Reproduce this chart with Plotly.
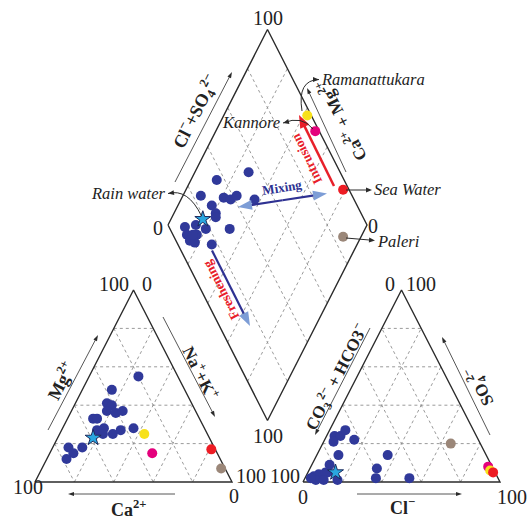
import math
import plotly.graph_objects as go

# ---------------- data (percent of meq/L) ----------------
TICKS = [20, 40, 60, 80]

# cation triangle - groundwater samples
cat_ca = [20, 37, 43, 41, 45, 41, 37, 54, 52, 55, 51, 53, 48, 43, 36, 74, 73, 67, 78]
cat_mg = [55, 48, 41, 40, 37, 36, 37, 33, 33, 27, 28, 25, 25, 27, 28, 18, 15, 18, 12]
cat_nak = [25, 15, 16, 19, 18, 23, 26, 13, 15, 18, 21, 22, 27, 30, 36, 8, 12, 15, 10]

# anion triangle - groundwater samples
an_hco3 = [72, 69, 65, 63, 74, 75, 50, 59, 62, 45, 93, 90, 86, 82, 85, 93, 89, 82, 95]
an_cl = [4, 7, 8, 15, 5, 11, 36, 34, 36, 53, 4, 6, 9, 9, 10, 6, 10, 17, 3]
an_so4 = [24, 24, 27, 22, 21, 14, 14, 7, 2, 2, 3, 4, 5, 9, 5, 1, 1, 1, 2]

# diamond - groundwater samples (Na+K %, Cl+SO4 %)
dia_nak = [27, 13, 9, 21, 25, 27, 37, 17, 21, 22, 9, 14, 20, 32, 12, 17, 15, 18, 27, 15]
dia_clso4 = [54, 36, 24, 35, 38, 42, 50, 27, 27, 26, 8, 14, 18, 30, 7, 12, 7, 9, 17, 10]

# reference samples
ref_names = ["Rain water", "Kannore", "Ramanattukara", "Sea Water", "Paleri"]
ref_ca = [59, 33, 32, 2, 2]
ref_mg = [23, 15, 25, 17, 7]
ref_nak = [18, 52, 43, 81, 91]
ref_hco3 = [81, 2, 2, 1, 15]
ref_cl = [14, 90, 92, 94, 65]
ref_so4 = [5, 8, 6, 5, 20]
ref_dia_nak = [16, 50, 42, 79, 91]
ref_dia_clso4 = [19, 98, 98, 97, 85]
ref_colors = ["#2aa7df", "#e4007c", "#f7e11b", "#ed1c24", "#9b8779"]

# ---------------- styling / layout geometry ----------------
FONT = "Liberation Serif"
INK = "#2b2b2b"
GRID = "#8f8f8f"
BLUE = "#2e3192"
LIGHT = "#7d9dd6"
RED = "#e8202a"
PT = "#30399a"

LX0, RX0, BASE, SIDE, HT = 35, 303, 482, 197, 192
DL, DT, DB = (168, 225), (267.5, 29.5), (267.5, 420.5)


def cat_xy(ca, mg, nak):
    s = ca + mg + nak
    return LX0 + SIDE * (nak + 0.5 * mg) / s, BASE - HT * mg / s


def an_xy(hco3, cl, so4):
    s = hco3 + cl + so4
    return RX0 + SIDE * (cl + 0.5 * so4) / s, BASE - HT * so4 / s


def dia_xy(nak, clso4):
    p, q = nak / 100.0, clso4 / 100.0
    return (DL[0] + q * (DT[0] - DL[0]) + p * (DB[0] - DL[0]),
            DL[1] + q * (DT[1] - DL[1]) + p * (DB[1] - DL[1]))


fig = go.Figure()

# grid
gx, gy = [], []
def addseg(a, b):
    gx.extend([a[0], b[0], None]); gy.extend([a[1], b[1], None])

for v in TICKS:
    addseg(cat_xy(100 - v, v, 0), cat_xy(0, v, 100 - v))
    addseg(cat_xy(100 - v, 0, v), cat_xy(0, 100 - v, v))
    addseg(cat_xy(v, 100 - v, 0), cat_xy(v, 0, 100 - v))
    addseg(an_xy(100 - v, 0, v), an_xy(0, 100 - v, v))
    addseg(an_xy(100 - v, v, 0), an_xy(0, v, 100 - v))
    addseg(an_xy(v, 100 - v, 0), an_xy(v, 0, 100 - v))
    addseg(dia_xy(v, 0), dia_xy(v, 100))
    addseg(dia_xy(0, v), dia_xy(100, v))
fig.add_trace(go.Scatter(x=gx, y=gy, mode="lines", hoverinfo="skip",
                         line=dict(color=GRID, width=0.9, dash="dot"), showlegend=False))

# outlines
ox, oy = [], []
for poly in ([cat_xy(100, 0, 0), cat_xy(0, 0, 100), cat_xy(0, 100, 0)],
             [an_xy(100, 0, 0), an_xy(0, 100, 0), an_xy(0, 0, 100)],
             [dia_xy(0, 0), dia_xy(0, 100), dia_xy(100, 100), dia_xy(100, 0)]):
    for p in poly + [poly[0]]:
        ox.append(p[0]); oy.append(p[1])
    ox.append(None); oy.append(None)
fig.add_trace(go.Scatter(x=ox, y=oy, mode="lines", hoverinfo="skip",
                         line=dict(color=INK, width=1.4), showlegend=False))

# groundwater samples
px, py = [], []
for a, b, c in zip(cat_ca, cat_mg, cat_nak):
    x, y = cat_xy(a, b, c); px.append(x); py.append(y)
for a, b, c in zip(an_hco3, an_cl, an_so4):
    x, y = an_xy(a, b, c); px.append(x); py.append(y)
for a, b in zip(dia_nak, dia_clso4):
    x, y = dia_xy(a, b); px.append(x); py.append(y)
fig.add_trace(go.Scatter(x=px, y=py, mode="markers", cliponaxis=False, showlegend=False,
                         marker=dict(size=10, color=PT, line=dict(width=0))))

# reference samples
for i, name in enumerate(ref_names):
    pts = [cat_xy(ref_ca[i], ref_mg[i], ref_nak[i]),
           an_xy(ref_hco3[i], ref_cl[i], ref_so4[i]),
           dia_xy(ref_dia_nak[i], ref_dia_clso4[i])]
    star = i == 0
    fig.add_trace(go.Scatter(
        x=[p[0] for p in pts], y=[p[1] for p in pts], mode="markers", name=name,
        cliponaxis=False, showlegend=False,
        marker=dict(symbol="star" if star else "circle", size=12 if star else 10,
                    color=ref_colors[i],
                    line=dict(width=1 if star else 0, color="#1d2a5c"))))

# ---------------- arrows & annotations ----------------
shapes = []


def head(tip, frm, L, Wd, color):
    dx, dy = tip[0] - frm[0], tip[1] - frm[1]
    n = math.hypot(dx, dy); ux, uy = dx / n, dy / n
    bx, by = tip[0] - ux * L, tip[1] - uy * L
    nx, ny = -uy, ux
    path = (f"M {tip[0]},{tip[1]} L {bx + nx * Wd / 2},{by + ny * Wd / 2} "
            f"L {bx - nx * Wd / 2},{by - ny * Wd / 2} Z")
    shapes.append(dict(type="path", path=path, xref="x", yref="y",
                       fillcolor=color, line=dict(width=0)))


def line(a, b, color, width):
    shapes.append(dict(type="line", xref="x", yref="y", x0=a[0], y0=a[1], x1=b[0], y1=b[1],
                       line=dict(color=color, width=width)))


def arrow(tail, tip, color, width, L=7, Wd=5, hcolor=None):
    dx, dy = tip[0] - tail[0], tip[1] - tail[1]
    n = math.hypot(dx, dy)
    end = (tip[0] - dx / n * L * 0.8, tip[1] - dy / n * L * 0.8)
    line(tail, end, color, width)
    head(tip, tail, L, Wd, hcolor or color)


def curve(p0, c, p1, tipdir_from, color=INK):
    shapes.append(dict(type="path", xref="x", yref="y",
                       path=f"M {p0[0]},{p0[1]} Q {c[0]},{c[1]} {p1[0]},{p1[1]}",
                       line=dict(color=color, width=1)))
    head(p1, tipdir_from, 6, 5, color)


# axis direction arrows
arrow((48, 430), (98, 335), INK, 0.8, 6, 4)          # Mg
arrow((163, 317), (215, 417), INK, 0.8, 6, 4)        # Na+K
arrow((175, 494), (68, 494), INK, 0.8, 6, 4)         # Ca
arrow((370, 328), (315, 435), INK, 0.8, 6, 4)        # CO3+HCO3
arrow((490, 435), (442, 337), INK, 0.8, 6, 4)        # SO4
arrow((357, 494), (462, 494), INK, 0.8, 6, 4)        # Cl
arrow((175, 182), (232, 72), INK, 0.8, 6, 4)         # Cl+SO4
arrow((346, 172), (307, 88), INK, 0.8, 6, 4)         # Ca+Mg

# process arrows
mix_a, mix_b = (238, 207), (327, 193.5)
mid = ((mix_a[0] + mix_b[0]) / 2, (mix_a[1] + mix_b[1]) / 2)
arrow(mid, mix_a, BLUE, 2.2, 14, 10, LIGHT)
arrow(mid, mix_b, BLUE, 2.2, 14, 10, LIGHT)
arrow((212, 250.5), (250, 326), BLUE, 2.2, 14, 10, LIGHT)
arrow((334, 186), (299, 115), RED, 2.5, 13, 10, RED)

# callouts
curve((201.5, 216), (188, 188), (168, 193.5), (178, 192))
curve((302, 111), (297, 80), (319, 79.5), (310, 79.5))
curve((313, 129), (302, 115), (283, 123), (291, 121))
arrow((346, 190), (372, 190), INK, 1, 6, 5)
arrow((346, 238), (375, 240.5), INK, 1, 6, 5)

ann = []


def txt(x, y, s, size=20, angle=0, bold=False, italic=False, color="#222222"):
    if bold:
        s = f"<b>{s}</b>"
    if italic:
        s = f"<i>{s}</i>"
    ann.append(dict(x=x, y=y, xref="x", yref="y", text=s, showarrow=False,
                    textangle=angle, xanchor="center", yanchor="middle",
                    font=dict(family=FONT, size=size, color=color)))


# tick numbers
txt(267.5, 17.5, "100")
txt(158, 228, "0")
txt(373, 226, "0")
txt(268, 436, "100")
txt(114, 284, "100")
txt(147, 284, "0")
txt(27.5, 487, "100")
txt(251, 475.5, "100")
txt(234, 495.5, "0")
txt(285, 475.5, "100")
txt(302.5, 496.5, "0")
txt(511.5, 496.5, "100")
txt(390, 283.5, "0")
txt(421, 283.5, "100")

# axis titles
txt(60, 381, "Mg<sup>2+</sup>", 18, -63, bold=True)
txt(201, 372, "Na<sup>+</sup>+K<sup>+</sup>", 17, 63, bold=True)
txt(128, 508, "Ca<sup>2+</sup>", 18, 0, bold=True)
txt(336, 377, "CO<sub>3</sub><sup>2−</sup> + HCO3<sup>−</sup>", 17, -63, bold=True)
txt(479, 386, "SO<sub>4</sub><sup>2−</sup>", 17, -117, bold=True)
txt(402, 506, "Cl<sup>−</sup>", 18, 0, bold=True)
txt(195, 112, "Cl<sup>−</sup>+SO<sub>4</sub><sup>2−</sup>", 18, -63, bold=True)
txt(341, 121, "Ca<sup>2+</sup> + Mg<sup>2+</sup>", 17, -117, bold=True)

# process labels
txt(282, 187, "Mixing", 13, -9, bold=True, color=BLUE)
txt(220.5, 290, "Freshening", 13.5, -117, bold=True, color=RED)
txt(306.5, 158.5, "Intrusion", 13.5, -116, bold=True, color=RED)

# sample labels
def label(x, y, s, anchor):
    ann.append(dict(x=x, y=y, xref="x", yref="y", text=f"<i>{s}</i>", showarrow=False,
                    xanchor=anchor, yanchor="middle",
                    font=dict(family=FONT, size=16.5, color="#222")))


label(167, 193, ref_names[0], "right")
label(282, 122, ref_names[1], "right")
label(319, 79, ref_names[2], "left")
label(372, 189, ref_names[3], "left")
label(375, 241, ref_names[4], "left")

fig.update_layout(
    width=527, height=520, autosize=False,
    margin=dict(l=0, r=0, t=0, b=0, pad=0),
    paper_bgcolor="white", plot_bgcolor="white",
    xaxis=dict(range=[0, 527], visible=False, fixedrange=True),
    yaxis=dict(range=[520, 0], visible=False, fixedrange=True),
    shapes=shapes, annotations=ann, showlegend=False,
)
fig.write_html("out.html")
